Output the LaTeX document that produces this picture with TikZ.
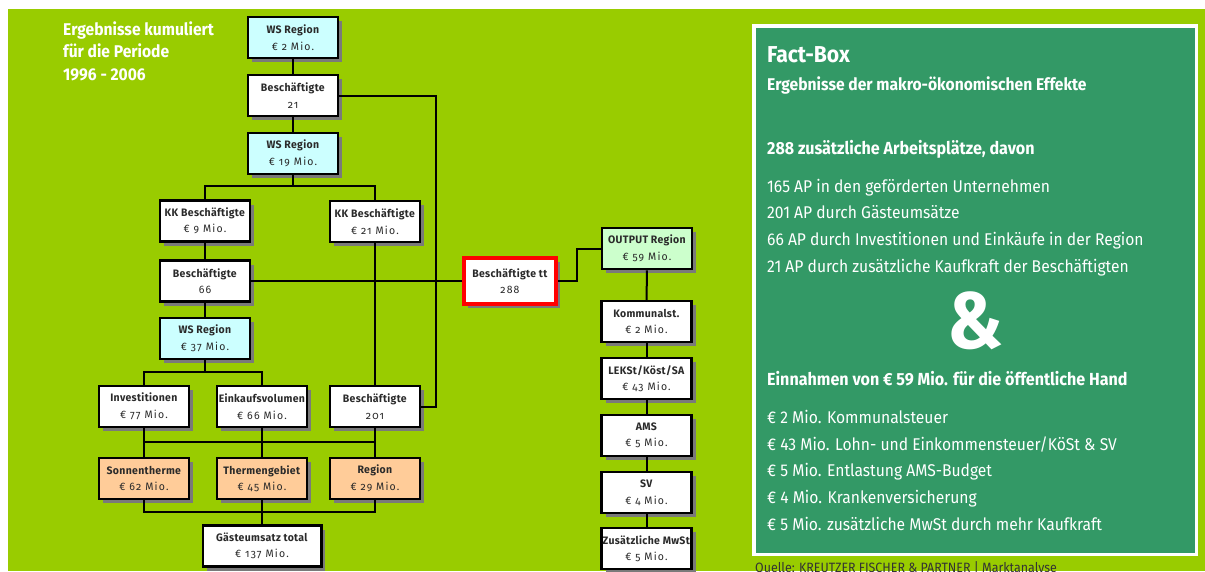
\documentclass[tikz,border=0pt]{standalone}
\usepackage{fontspec}
\setmainfont{Fira Sans}[FakeStretch=0.92]
\newfontfamily\nodefont{Fira Sans}[FakeStretch=0.97,LetterSpace=3,Numbers=OldStyle]
\newfontfamily\valfont{Fira Sans}[FakeStretch=0.97,LetterSpace=11,Numbers=OldStyle]
\usetikzlibrary{shadows}
\definecolor{bggreen}{HTML}{99CC00}
\definecolor{factgreen}{HTML}{339966}
\definecolor{boxcyan}{HTML}{CCFFFF}
\definecolor{boxorange}{HTML}{FFCC99}
\definecolor{boxlgreen}{HTML}{CCFFCC}
\definecolor{textgrey}{HTML}{2A2A2A}
\definecolor{shadowgrey}{HTML}{7A7A7A}
\definecolor{quellegrey}{HTML}{333333}
\tikzset{
  box/.style={draw=black, line width=2.5pt, fill=white, minimum width=90pt,
    minimum height=41pt, inner sep=0pt, align=center, text=textgrey,
    font=\nodefont\fontsize{10.8}{16.5}\selectfont,
    drop shadow={shadow xshift=4pt, shadow yshift=-4pt, fill=shadowgrey, opacity=1}},
  wire/.style={line width=2pt, draw=black},
  fbtext/.style={anchor=base west, text=white, inner sep=0pt, font=\fontsize{17}{17}\selectfont},
  fbbold/.style={fbtext, font=\bfseries\fontsize{17.5}{17.5}\selectfont},
  titletext/.style={anchor=base west, text=white, inner sep=0pt, font=\bfseries\fontsize{17}{17}\selectfont},
}
\begin{document}
\begin{tikzpicture}[x=1pt, y=-1pt]
\useasboundingbox (0,0) rectangle (1205,571);
\fill[white] (0,0) rectangle (1205,571);
\fill[bggreen] (8,9) rectangle (1205,571);

% title
\node[titletext] (t1) at (63,35) {Ergebnisse kumuliert};
\node[titletext] (t2) at (63,57) {für die Periode};
\node[titletext] (t3) at (63,80) {1996 - 2006};

% left tree
\node[box, fill=boxcyan] (ws2) at (293,37.5) {\textbf{WS Region}\\\valfont € 2 Mio.};
\node[box] (b21) at (293,95.5) {\textbf{Beschäftigte}\\\valfont 21};
\node[box, fill=boxcyan] (ws19) at (293,153.5) {\textbf{WS Region}\\\valfont € 19 Mio.};
\node[box] (kk9) at (205,221) {\textbf{KK Beschäftigte}\\\valfont € 9 Mio.};
\node[box] (kk21) at (375,221.5) {\textbf{KK Beschäftigte}\\\valfont € 21 Mio.};
\node[box] (b66) at (205,281) {\textbf{Beschäftigte}\\\valfont 66};
\node[box, fill=boxcyan] (ws37) at (205,338.5) {\textbf{WS Region}\\\valfont € 37 Mio.};
\node[box] (inv) at (144,406.5) {\textbf{Investitionen}\\\valfont € 77 Mio.};
\node[box] (ekv) at (262,406.5) {\textbf{Einkaufsvolumen}\\\valfont € 66 Mio.};
\node[box] (b201) at (375,406.5) {\textbf{Beschäftigte}\\\valfont 201};
\node[box, fill=boxorange] (sonn) at (144,478.5) {\textbf{Sonnentherme}\\\valfont € 62 Mio.};
\node[box, fill=boxorange] (therm) at (262,478.5) {\textbf{Thermengebiet}\\\valfont € 45 Mio.};
\node[box, fill=boxorange] (reg) at (375,478.5) {\textbf{Region}\\\valfont € 29 Mio.};
\node[box, minimum width=118.5pt] (gast) at (262,546) {\textbf{Gästeumsatz total}\\\valfont € 137 Mio.};

% center
\node[box, draw=red, line width=4pt, minimum width=92pt, minimum height=46pt] (btt) at (510,281) {\textbf{Beschäftigte tt}\\\valfont 288};

% right column
\node[box, fill=boxlgreen] (out) at (647,248.5) {\textbf{OUTPUT Region}\\\valfont € 59 Mio.};
\node[box] (komm) at (646.5,321.5) {\textbf{Kommunalst.}\\\valfont € 2 Mio.};
\node[box] (lekst) at (646.5,378.5) {\textbf{LEKSt/Köst/SA}\\\valfont € 43 Mio.};
\node[box] (ams) at (646.5,435.5) {\textbf{AMS}\\\valfont € 5 Mio.};
\node[box] (sv) at (646.5,492.5) {\textbf{SV}\\\valfont € 4 Mio.};
\node[box] (mwst) at (646.5,548.5) {\textbf{Zusätzliche MwSt}\\\valfont € 5 Mio.};

% connectors
\draw[wire] (ws2) -- (b21);
\draw[wire] (b21) -- (ws19);
\draw[wire] (b21.east) -- ++(97,0) |- (b201.east);
\draw[wire] (ws19.south) -- ++(0,10.5) -| (kk9.north);
\draw[wire] (ws19.south) -- ++(0,10.5) -| (kk21.north);
\draw[wire] (kk9) -- (b66);
\draw[wire] (kk21) -- (b201);
\draw[wire] (b66.east) -- (btt.west);
\draw[wire] (b66) -- (ws37);
\draw[wire] (ws37.south) -- ++(0,12) -| (inv.north);
\draw[wire] (ws37.south) -- ++(0,12) -| (ekv.north);
\draw[wire] (inv) -- (sonn);
\draw[wire] (ekv) -- (therm);
\draw[wire] (b201) -- (reg);
\draw[wire] (inv.south) -- ++(0,14) -| (b201.south);
\draw[wire] (therm.south) -- ++(0,12) -| (sonn.south);
\draw[wire] (therm.south) -- ++(0,12) -| (reg.south);
\draw[wire] (therm) -- (gast);
\draw[wire] (btt.east) -- ++(19,0) |- (out.west);
\draw[wire] (out) -- (komm);
\draw[wire] (komm) -- (lekst);
\draw[wire] (lekst) -- (ams);
\draw[wire] (ams) -- (sv);
\draw[wire] (sv) -- (mwst);

% fact box
\node[draw=white, line width=3.5pt, fill=factgreen, minimum width=442.5pt, minimum height=528.5pt, inner sep=0pt] (factbox) at (975,290) {};
\node[fbbold, font=\bfseries\fontsize{23}{23}\selectfont] (fbh) at (767,62) {Fact-Box};
\node[fbbold, font=\bfseries\fontsize{17}{17}\selectfont] (fb1) at (767,90) {Ergebnisse der makro-ökonomischen Effekte};
\node[fbbold] (fb2) at (767,154) {288 zusätzliche Arbeitsplätze, davon};
\node[fbtext] (fb3) at (767,192) {165 AP in den geförderten Unternehmen};
\node[fbtext] (fb4) at (767,218.5) {201 AP durch Gästeumsätze};
\node[fbtext] (fb5) at (767,245) {66 AP durch Investitionen und Einkäufe in der Region};
\node[fbtext] (fb6) at (767,272) {21 AP durch zusätzliche Kaufkraft der Beschäftigten};
\node[text=white, inner sep=0pt, font=\bfseries\fontsize{80}{80}\selectfont] (amp) at (975,321) {\&};
\node[fbbold] (fb7) at (767,385) {Einnahmen von € 59 Mio. für die öffentliche Hand};
\node[fbtext] (fb8) at (767,423) {€ 2 Mio. Kommunalsteuer};
\node[fbtext] (fb9) at (767,450) {€ 43 Mio. Lohn- und Einkommensteuer/KöSt \& SV};
\node[fbtext] (fb10) at (767,476.5) {€ 5 Mio. Entlastung AMS-Budget};
\node[fbtext] (fb11) at (767,503) {€ 4 Mio. Krankenversicherung};
\node[fbtext] (fb12) at (767,530) {€ 5 Mio. zusätzliche MwSt durch mehr Kaufkraft};

\node[anchor=base west, inner sep=0pt, text=quellegrey, font=\fontsize{13.5}{13.5}\selectfont] (quelle) at (755,572) {Quelle: KREUTZER FISCHER \& PARTNER | Marktanalyse};
\end{tikzpicture}
\end{document}
